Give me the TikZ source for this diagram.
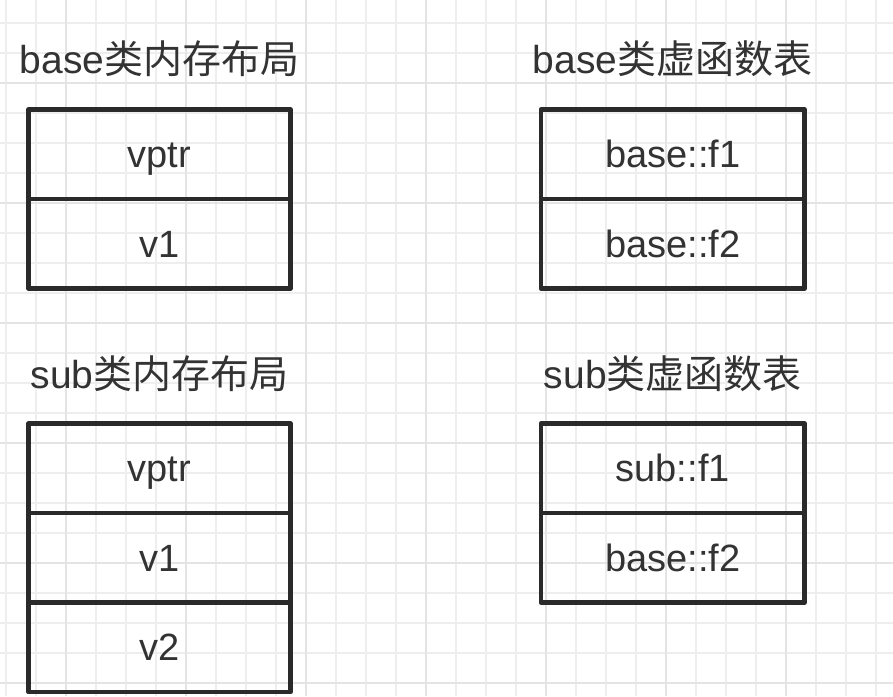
\documentclass[tikz,border=0pt]{standalone}
\usepackage{fontspec}
\setmainfont{Liberation Sans}
\newfontfamily\cjk{Noto Sans CJK SC}
\definecolor{ink}{HTML}{333333}
\definecolor{boxline}{HTML}{2A2A2A}
\definecolor{gridminor}{HTML}{EEEEEE}
\definecolor{gridmajor}{HTML}{E4E4E4}
\begin{document}
\begin{tikzpicture}[x=1pt,y=-1pt,
  cell/.style={draw=boxline, line width=4.5pt, line join=round, rectangle,
    inner sep=0pt, minimum height=89.5pt, text=ink,
    font=\fontsize{38}{40}\selectfont, text height=26.5pt, text depth=0pt},
  lcell/.style={cell, minimum width=262pt},
  rcell/.style={cell, minimum width=263.5pt},
  title/.style={anchor=base, text=ink, inner sep=0pt,
    font=\fontsize{39}{42}\selectfont},
  minorline/.style={draw=gridminor, line width=1.3pt},
  majorline/.style={draw=gridmajor, line width=1.5pt}]
\useasboundingbox[fill=white] (0,0) rectangle (893,696);
% grid
\foreach \x in {6,36,...,876} \draw[minorline] (\x,0) -- (\x,696);
\foreach \y in {23,53,...,683} \draw[minorline] (0,\y) -- (893,\y);
\foreach \x in {66,186,...,786} \draw[majorline] (\x,0) -- (\x,696);
\foreach \y in {83,203,...,683} \draw[majorline] (0,\y) -- (893,\y);
% titles
\node[title] (t1) at (159.5,73) {base{\cjk 类内存布局}};
\node[title] (t2) at (672.75,73) {base{\cjk 类虚函数表}};
\node[title] (t3) at (159.5,388.5) {sub{\cjk 类内存布局}};
\node[title] (t4) at (672.75,388.5) {sub{\cjk 类虚函数表}};
% base layout
\node[lcell] (bvptr) at (159.5,154.25) {vptr};
\node[lcell] (bv1) at (159.5,243.75) {v1};
% base vtable
\node[rcell] (bf1) at (672.75,154.25) {base::f1};
\node[rcell] (bf2) at (672.75,243.75) {base::f2};
% sub layout
\node[lcell] (svptr) at (159.5,468.25) {vptr};
\node[lcell] (sv1) at (159.5,557.75) {v1};
\node[lcell] (sv2) at (159.5,647.25) {v2};
% sub vtable
\node[rcell] (sf1) at (672.75,468.25) {sub::f1};
\node[rcell] (sf2) at (672.75,557.75) {base::f2};
\end{tikzpicture}
\end{document}
